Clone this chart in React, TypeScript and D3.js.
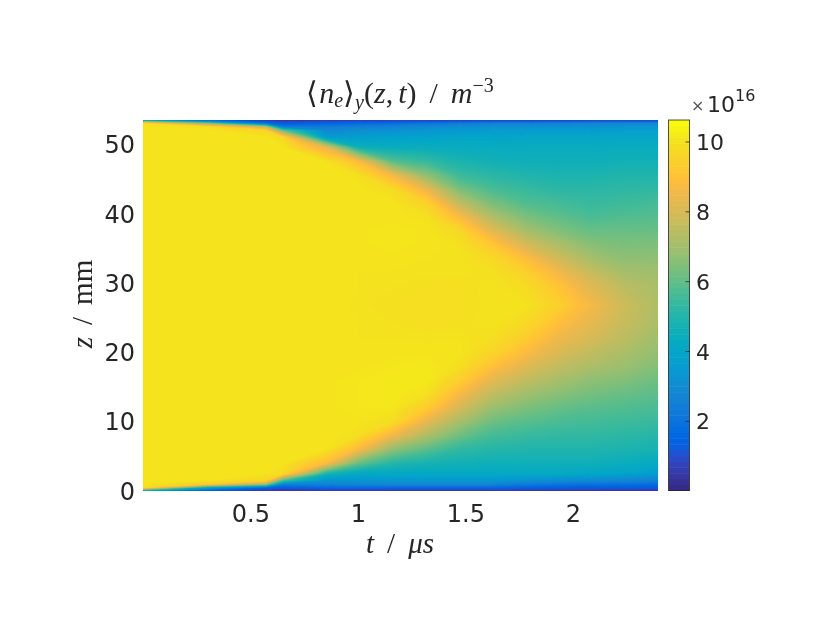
import React, { useMemo } from "react";
import * as d3 from "d3";

// Time samples (µs) and height samples (mm) of the density map
const times = [0, 0.3, 0.57, 0.65, 0.85, 1.0, 1.16, 1.32, 1.47, 1.62, 1.78, 1.93, 2.08, 2.23, 2.393];
const heights = [0, 0.15, 0.5, 1, 1.5, 2.5, 4, 6, 8, 10, 12, 14, 16, 18, 20, 22, 24, 26.8, 29.6, 31.6, 33.6, 35.6, 37.6, 39.6, 41.6, 43.6, 45.6, 47.6, 49.6, 51.1, 52.1, 52.6, 53.1, 53.45, 53.6];

// <n_e>_y in 1e16 m^-3, one list per time sample, bottom to top
const ne000 = [0.8, 5.5, 9.9, 10.05, 10.05, 10.05, 10.05, 10.05, 10.05, 10.05, 10.05, 10.05, 10.05, 10.05, 10.05, 10.05, 10.05, 10.05, 10.05, 10.05, 10.05, 10.05, 10.05, 10.05, 10.05, 10.05, 10.05, 10.05, 10.05, 10.05, 10.05, 10.05, 9.8, 5.5, 0.9];
const ne030 = [0.4, 1.8, 4.0, 9.3, 10.0, 10.05, 10.05, 10.05, 10.05, 10.05, 10.05, 10.05, 10.05, 10.05, 10.05, 10.05, 10.05, 10.05, 10.05, 10.05, 10.05, 10.05, 10.05, 10.05, 10.05, 10.05, 10.05, 10.05, 10.05, 10.05, 10.05, 9.9, 6.5, 2.5, 0.6];
const ne057 = [0.3, 0.7, 1.6, 7.0, 9.6, 10.0, 10.05, 10.05, 10.05, 10.05, 10.05, 10.05, 10.05, 10.05, 10.05, 10.05, 10.05, 10.05, 10.05, 10.05, 10.05, 10.05, 10.05, 10.05, 10.05, 10.05, 10.05, 10.05, 10.05, 10.05, 9.6, 7.5, 2.0, 0.9, 0.4];
const ne065 = [0.3, 0.6, 1.3, 2.6, 5.5, 9.8, 10.05, 10.05, 10.05, 10.05, 10.05, 10.05, 10.05, 10.05, 10.05, 10.05, 10.05, 10.05, 10.05, 10.05, 10.05, 10.05, 10.05, 10.05, 10.05, 10.05, 10.05, 10.05, 10.05, 9.7, 6.0, 2.4, 1.3, 0.6, 0.3];
const ne085 = [0.3, 0.7, 1.7, 2.7, 3.3, 4.9, 8.8, 10.0, 10.05, 10.05, 10.05, 10.05, 10.05, 10.05, 10.05, 10.05, 10.05, 10.05, 10.05, 10.05, 10.05, 10.05, 10.05, 10.05, 10.05, 10.05, 10.05, 10.0, 8.4, 3.6, 2.9, 2.4, 1.6, 0.8, 0.3];
const ne100 = [0.3, 0.7, 1.7, 2.8, 3.3, 4.2, 6.1, 8.7, 9.9, 10.05, 10.1, 10.1, 10.1, 10.05, 10.05, 10.0, 10.0, 9.98, 10.0, 10.0, 10.05, 10.05, 10.05, 10.05, 10.05, 10.05, 9.95, 8.9, 4.7, 3.7, 3.1, 2.6, 1.8, 0.9, 0.3];
const ne116 = [0.3, 0.7, 1.7, 2.8, 3.4, 4.2, 5.1, 6.7, 8.5, 9.8, 10.1, 10.15, 10.15, 10.1, 10.05, 10.0, 9.97, 9.93, 9.97, 10.0, 10.05, 10.1, 10.1, 10.05, 10.05, 9.8, 8.6, 5.9, 4.5, 3.8, 3.2, 2.7, 1.9, 1.0, 0.3];
const ne132 = [0.3, 0.7, 1.7, 2.8, 3.4, 4.2, 4.8, 5.9, 7.2, 8.3, 9.3, 9.95, 10.15, 10.15, 10.05, 9.98, 9.93, 9.9, 9.93, 9.98, 10.0, 10.05, 10.05, 9.95, 9.5, 8.4, 6.7, 5.4, 4.5, 3.9, 3.4, 2.9, 2.2, 1.0, 0.3];
const ne147 = [0.3, 0.7, 1.7, 2.8, 3.4, 4.2, 4.7, 5.3, 6.2, 7.1, 8.0, 8.7, 9.4, 9.9, 10.05, 10.0, 9.95, 9.9, 9.93, 9.98, 10.0, 9.95, 9.7, 8.8, 7.6, 6.4, 5.5, 4.9, 4.4, 4.0, 3.5, 3.1, 2.4, 1.1, 0.3];
const ne162 = [0.3, 0.7, 1.7, 2.8, 3.4, 4.2, 4.6, 5.1, 5.6, 6.2, 6.9, 7.6, 8.3, 9.0, 9.6, 9.9, 10.0, 10.0, 10.0, 9.95, 9.75, 9.2, 8.3, 7.3, 6.4, 5.7, 5.2, 4.7, 4.4, 4.0, 3.6, 3.2, 2.6, 1.1, 0.3];
const ne178 = [0.3, 0.7, 1.5, 2.4, 3.2, 4.2, 4.6, 5.0, 5.4, 5.9, 6.4, 7.0, 7.6, 8.2, 8.8, 9.3, 9.7, 9.98, 9.8, 9.45, 8.9, 8.0, 7.1, 6.4, 5.8, 5.4, 5.0, 4.6, 4.4, 4.05, 3.6, 3.2, 2.6, 1.1, 0.3];
const ne193 = [0.3, 0.7, 1.4, 2.2, 3.0, 4.2, 4.6, 5.0, 5.3, 5.7, 6.1, 6.6, 7.1, 7.6, 8.1, 8.5, 8.9, 9.45, 9.1, 8.6, 7.9, 7.2, 6.5, 6.0, 5.6, 5.2, 4.9, 4.6, 4.4, 4.05, 3.6, 3.2, 2.7, 1.1, 0.3];
const ne208 = [0.3, 0.7, 1.3, 2.1, 2.9, 4.1, 4.6, 5.0, 5.3, 5.6, 5.9, 6.3, 6.7, 7.2, 7.6, 8.0, 8.3, 8.65, 8.2, 7.7, 7.1, 6.6, 6.1, 5.7, 5.4, 5.2, 4.9, 4.6, 4.4, 4.05, 3.6, 3.2, 2.8, 1.2, 0.3];
const ne223 = [0.3, 0.7, 1.3, 2.0, 2.8, 3.9, 4.5, 4.9, 5.2, 5.5, 5.8, 6.1, 6.5, 6.9, 7.2, 7.5, 7.7, 7.85, 7.5, 7.1, 6.7, 6.4, 6.1, 5.8, 5.5, 5.25, 5.0, 4.7, 4.4, 4.1, 3.7, 3.3, 2.8, 1.2, 0.3];
const ne239 = [0.3, 0.7, 1.3, 1.9, 2.6, 3.6, 4.3, 4.8, 5.1, 5.4, 5.7, 5.95, 6.2, 6.5, 6.75, 6.95, 7.15, 7.25, 7.15, 7.0, 6.7, 6.45, 6.15, 5.85, 5.6, 5.3, 5.0, 4.7, 4.4, 4.1, 3.7, 3.3, 2.8, 1.2, 0.3];
const columns = [ne000, ne030, ne057, ne065, ne085, ne100, ne116, ne132, ne147, ne162, ne178, ne193, ne208, ne223, ne239];

// Axis ticks
const tTicks = [0.5, 1, 1.5, 2];
const tTickLabels = ["0.5", "1", "1.5", "2"];
const zTicks = [0, 10, 20, 30, 40, 50];
const cbTicks = [2, 4, 6, 8, 10];

// Colour limits (1e16 m^-3)
const cMin = 0.02;
const cMax = 10.63;

// MATLAB parula, 64 entries
const parula = [
  [0.2081, 0.1663, 0.5292], [0.2116, 0.1898, 0.5777], [0.2123, 0.2138, 0.627], [0.2081, 0.2386, 0.6771],
  [0.1959, 0.2645, 0.7279], [0.1707, 0.2919, 0.7792], [0.1253, 0.3242, 0.8303], [0.0591, 0.3598, 0.8683],
  [0.0117, 0.3875, 0.882], [0.006, 0.4086, 0.8828], [0.0165, 0.4266, 0.8786], [0.0329, 0.443, 0.872],
  [0.0498, 0.4586, 0.8641], [0.0629, 0.4737, 0.8554], [0.0723, 0.4887, 0.8467], [0.0779, 0.504, 0.8384],
  [0.0793, 0.52, 0.8312], [0.0749, 0.5375, 0.8263], [0.0641, 0.557, 0.824], [0.0488, 0.5772, 0.8228],
  [0.0343, 0.5966, 0.8199], [0.0265, 0.6137, 0.8135], [0.0239, 0.6287, 0.8038], [0.0231, 0.6418, 0.7913],
  [0.0228, 0.6535, 0.7768], [0.0267, 0.6642, 0.7607], [0.0384, 0.6743, 0.7436], [0.059, 0.6838, 0.7254],
  [0.0843, 0.6928, 0.7062], [0.1133, 0.7015, 0.6859], [0.1453, 0.7098, 0.6646], [0.1801, 0.7177, 0.6424],
  [0.2178, 0.725, 0.6193], [0.2586, 0.7317, 0.5954], [0.3022, 0.7376, 0.5712], [0.3482, 0.7424, 0.5473],
  [0.3953, 0.7459, 0.5244], [0.442, 0.7481, 0.5033], [0.4871, 0.7491, 0.484], [0.53, 0.7491, 0.4661],
  [0.5709, 0.7485, 0.4494], [0.6099, 0.7473, 0.4337], [0.6473, 0.7456, 0.4188], [0.6834, 0.7435, 0.4044],
  [0.7184, 0.7411, 0.3905], [0.7525, 0.7384, 0.3768], [0.7858, 0.7356, 0.3633], [0.8185, 0.7327, 0.3498],
  [0.8507, 0.7299, 0.336], [0.8824, 0.7274, 0.3217], [0.9139, 0.7258, 0.3063], [0.945, 0.7261, 0.2886],
  [0.9739, 0.7314, 0.2666], [0.9938, 0.7455, 0.2403], [0.999, 0.7653, 0.2164], [0.9955, 0.7861, 0.1967],
  [0.988, 0.8066, 0.1794], [0.9789, 0.8271, 0.1633], [0.9697, 0.8481, 0.1475], [0.9626, 0.8705, 0.1309],
  [0.9589, 0.8949, 0.1132], [0.9598, 0.9218, 0.0948], [0.9661, 0.9514, 0.0755], [0.9763, 0.9831, 0.0538],
];
const toColor = (c: number[]) => d3.rgb(c[0] * 255, c[1] * 255, c[2] * 255).formatHex();

const W = 830;
const H = 642;
const plot = { left: 143.3, right: 658, top: 120, bottom: 491 };
const bar = { left: 668.5, right: 689.5, top: 120, bottom: 490.5 };
const ink = "#262626";
const sans = "'DejaVu Sans', sans-serif";
const serif = "'Liberation Serif', serif";

export default function App() {
  const x = d3.scaleLinear().domain([0, 2.393]).range([plot.left, plot.right]);
  const y = d3.scaleLinear().domain([0, 53.6]).range([plot.bottom, plot.top]);
  const cb = d3.scaleLinear().domain([cMin, cMax]).range([bar.bottom, bar.top]);
  const cbStep = (cMax - cMin) / parula.length;

  // The map is shaded smoothly: colours are blended between the parula entries
  const shade = d3
    .scaleLinear<string>()
    .domain(parula.map((_, i) => cMin + (i + 0.5) * cbStep))
    .range(parula.map(toColor))
    .interpolate(d3.interpolateRgb)
    .clamp(true);

  const bands = useMemo(() => {
    const nx = times.length;
    const ny = heights.length;
    const flat: number[] = [];
    for (let j = 0; j < ny; j++) for (let i = 0; i < nx; i++) flat.push(columns[i][j]);
    const levels = 320;
    const step = (cMax - cMin) / levels;
    const thresholds = d3.range(1, levels).map((i) => cMin + i * step);
    const contours = d3.contours().size([nx, ny]).thresholds(thresholds)(flat);
    // d3.contours places sample i at i + 0.5
    const gx = d3.scaleLinear().domain(times.map((_, i) => i + 0.5)).range(times).clamp(true);
    const gy = d3.scaleLinear().domain(heights.map((_, i) => i + 0.5)).range(heights).clamp(true);
    const path = d3.geoPath(
      d3.geoTransform({
        point(a: number, b: number) {
          (this as any).stream.point(x(gx(a)), y(gy(b)));
        },
      })
    );
    return contours
      .map((c, i) => ({ d: path(c as any) || "", fill: shade(thresholds[i] + step / 2) }))
      .filter((b) => b.d);
  }, []);

  return (
    <svg width={W} height={H} viewBox={`0 0 ${W} ${H}`} style={{ position: "absolute", left: 0, top: 0, background: "#fff", filter: "blur(0.45px)" }}>
      <defs>
        <clipPath id="plotClip">
          <rect x={plot.left} y={plot.top} width={plot.right - plot.left} height={plot.bottom - plot.top} />
        </clipPath>
      </defs>

      <g clipPath="url(#plotClip)">
        <rect x={plot.left} y={plot.top} width={plot.right - plot.left} height={plot.bottom - plot.top} fill={toColor(parula[0])} />
        {bands.map((b, i) => (
          <path key={i} d={b.d} fill={b.fill} />
        ))}
      </g>

      {/* colour bar */}
      {parula.map((c, i) => (
        <rect
          key={i}
          x={bar.left}
          width={bar.right - bar.left}
          y={cb(cMin + (i + 1) * cbStep)}
          height={cb(cMin + i * cbStep) - cb(cMin + (i + 1) * cbStep) + 0.5}
          fill={toColor(c)}
        />
      ))}
      <rect x={bar.left} y={bar.top} width={bar.right - bar.left} height={bar.bottom - bar.top} fill="none" stroke={ink} strokeOpacity={0.8} strokeWidth={1} />
      {cbTicks.map((t) => (
        <g key={t}>
          <line x1={bar.right - 4} x2={bar.right} y1={cb(t)} y2={cb(t)} stroke={ink} strokeWidth={0.8} />
          <text x={696} y={cb(t) + 8} fontFamily={sans} fontSize={22} fill={ink}>
            {t}
          </text>
        </g>
      ))}
      <text x={691} y={111} fontFamily={sans} fontSize={16} fill="#555">
        ×
      </text>
      <text x={707} y={112} fontFamily={sans} fontSize={22} fill={ink}>
        10
      </text>
      <text x={735} y={101} fontFamily={sans} fontSize={16} fill={ink}>
        16
      </text>

      {/* axis tick labels */}
      {tTicks.map((t, i) => (
        <text key={t} x={x(t)} y={522} textAnchor="middle" fontFamily={sans} fontSize={24} fill={ink}>
          {tTickLabels[i]}
        </text>
      ))}
      {zTicks.map((z) => (
        <text key={z} x={135} y={y(z) + 8.5} textAnchor="end" fontFamily={sans} fontSize={24} fill={ink}>
          {z}
        </text>
      ))}

      {/* title and axis labels */}
      <text x={400} y={103} textAnchor="middle" fontFamily={serif} fontSize={30} fill={ink}>
        <tspan>⟨</tspan>
        <tspan fontStyle="italic" dx={1}>n</tspan>
        <tspan fontStyle="italic" fontSize={20} dy={4}>e</tspan>
        <tspan dy={-4}>⟩</tspan>
        <tspan fontStyle="italic" fontSize={20} dy={6}>y</tspan>
        <tspan dy={-6}>(</tspan>
        <tspan fontStyle="italic">z</tspan>
        <tspan>,</tspan>
        <tspan fontStyle="italic" dx={5}>t</tspan>
        <tspan>)</tspan>
        <tspan dx={13}>/</tspan>
        <tspan fontStyle="italic" dx={13}>m</tspan>
        <tspan fontSize={20} dy={-11}>−3</tspan>
      </text>
      <text x={400} y={553} textAnchor="middle" fontFamily={serif} fontSize={29} fill={ink}>
        <tspan fontStyle="italic">t</tspan>
        <tspan dx={13}>/</tspan>
        <tspan fontStyle="italic" dx={13}>μs</tspan>
      </text>
      <text transform="translate(92,304) rotate(-90)" textAnchor="middle" fontFamily={serif} fontSize={29} fill={ink}>
        <tspan fontStyle="italic">z</tspan>
        <tspan dx={12}>/</tspan>
        <tspan dx={12}>mm</tspan>
      </text>
    </svg>
  );
}
